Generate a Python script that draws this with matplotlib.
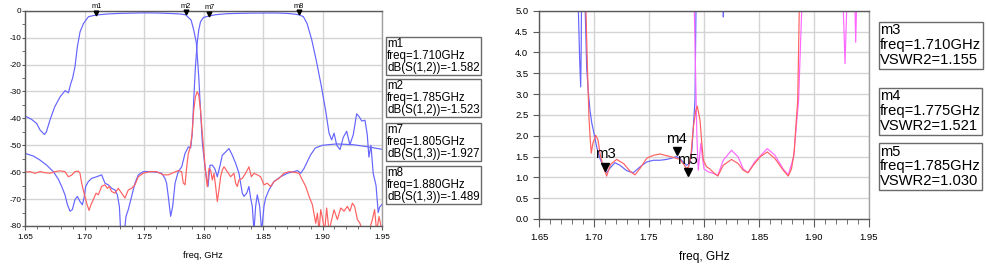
import matplotlib
matplotlib.use("Agg")
import matplotlib.pyplot as plt
from matplotlib.ticker import MultipleLocator, FormatStrFormatter
from matplotlib.transforms import offset_copy

plt.rcParams['font.family'] = ['Liberation Sans', 'DejaVu Sans']
plt.rcParams['axes.unicode_minus'] = False

# ---- left chart: dB(S(1,2)), dB(S(1,3)), isolation ----
s12_freq = [1.650, 1.6556, 1.6598, 1.6626, 1.6663, 1.668, 1.671, 1.675, 1.6795, 1.6837,
            1.6865, 1.6885, 1.690, 1.692, 1.694, 1.6963, 1.6992, 1.7034, 1.710, 1.720,
            1.730, 1.740, 1.750, 1.760, 1.770, 1.780, 1.785, 1.7896, 1.7918, 1.794,
            1.796, 1.7975, 1.799, 1.801, 1.8025, 1.8038, 1.8055, 1.8074, 1.8094, 1.8116,
            1.8139, 1.8158, 1.8186, 1.8214, 1.8242, 1.827, 1.8298, 1.8326, 1.834, 1.8363,
            1.8382, 1.8396, 1.841, 1.8424, 1.8438, 1.8452, 1.8472, 1.8489, 1.8508, 1.8522,
            1.855, 1.8592, 1.8648, 1.8704, 1.8761, 1.8789, 1.8817, 1.8845, 1.8873, 1.8901,
            1.894, 1.900, 1.912, 1.926, 1.937, 1.950]
s12_db = [-39.1, -40.4, -41.9, -44.3, -46.0, -45.0, -40.6, -35.7, -32.0, -29.7,
          -30.5, -27.0, -25.1, -20.8, -13.4, -7.8, -4.7, -2.2, -1.58, -1.2,
          -1.0, -0.9, -0.8, -0.85, -1.0, -1.2, -1.52, -3.5, -7.2, -12.0,
          -24.5, -37.0, -49.0, -57.0, -62.0, -65.3, -57.4, -57.4, -58.6, -61.7,
          -57.5, -53.7, -52.5, -51.2, -53.7, -56.7, -60.4, -67.8, -69.0, -67.8,
          -65.3, -69.6, -72.7, -82.0, -72.7, -68.4, -72.7, -82.0, -72.7, -69.6,
          -66.6, -63.5, -61.7, -60.4, -59.8, -59.4, -60.4, -58.6, -56.0, -53.5,
          -51.0, -50.0, -49.5, -49.8, -50.5, -51.5]

s13_freq = [1.650, 1.657, 1.6626, 1.6682, 1.6738, 1.678, 1.6808, 1.6836, 1.6856, 1.6878,
            1.6898, 1.692, 1.694, 1.6962, 1.6982, 1.6996, 1.701, 1.7032, 1.706, 1.7102,
            1.7144, 1.7172, 1.720, 1.7228, 1.7256, 1.7276, 1.7293, 1.7304, 1.7335, 1.7349,
            1.7368, 1.7396, 1.7424, 1.7452, 1.7494, 1.755, 1.7606, 1.7648, 1.7676, 1.769,
            1.7704, 1.7724, 1.7741, 1.7761, 1.7788, 1.7817, 1.7845, 1.7873, 1.7892, 1.7905,
            1.7918, 1.7932, 1.7947, 1.796, 1.7975, 1.800, 1.805, 1.810, 1.820, 1.840,
            1.860, 1.870, 1.875, 1.880, 1.8839, 1.887, 1.891, 1.895, 1.899, 1.9026,
            1.9055, 1.9077, 1.9097, 1.912, 1.9147, 1.9175, 1.9203, 1.923, 1.9259, 1.9287,
            1.931, 1.933, 1.9357, 1.9376, 1.939, 1.9407, 1.9426, 1.945, 1.9468, 1.948,
            1.950]
s13_db = [-53.0, -54.0, -55.5, -57.4, -59.8, -62.6, -65.3, -68.4, -72.0, -74.5,
          -73.9, -70.2, -69.0, -70.9, -72.1, -69.6, -65.3, -63.5, -62.3, -61.7,
          -61.0, -64.1, -64.7, -66.0, -66.6, -68.4, -72.7, -82.0, -82.0, -76.4,
          -73.9, -69.0, -64.1, -61.0, -59.8, -59.8, -60.0, -60.4, -62.3, -64.1,
          -69.0, -76.4, -72.7, -64.1, -59.8, -58.0, -53.0, -50.6, -51.0, -46.0,
          -33.0, -21.0, -12.0, -7.2, -4.1, -2.5, -1.93, -1.5, -1.1, -0.9,
          -0.85, -1.0, -1.2, -1.49, -2.2, -4.7, -10.9, -19.0, -28.0, -37.0,
          -45.5, -48.0, -45.5, -50.0, -51.6, -47.0, -44.8, -49.8, -46.0, -38.3,
          -39.5, -41.0, -40.7, -46.0, -54.4, -50.0, -60.4, -65.0, -75.0, -73.0,
          -71.9]

s23_freq = [1.650, 1.6542, 1.6584, 1.6626, 1.6668, 1.671, 1.6752, 1.6794, 1.6836, 1.6864,
            1.6892, 1.692, 1.6948, 1.6962, 1.6976, 1.6996, 1.7018, 1.7038, 1.7055, 1.7074,
            1.7097, 1.7116, 1.7144, 1.7172, 1.7192, 1.7208, 1.7228, 1.7256, 1.7284, 1.7312,
            1.734, 1.7368, 1.7396, 1.7424, 1.7452, 1.7494, 1.755, 1.7606, 1.7662, 1.7704,
            1.7746, 1.7788, 1.7816, 1.783, 1.7845, 1.7859, 1.7873, 1.789, 1.7904, 1.7918,
            1.7932, 1.7947, 1.796, 1.7975, 1.799, 1.8004, 1.8018, 1.8032, 1.8046, 1.806,
            1.8074, 1.8088, 1.8102, 1.8116, 1.813, 1.8144, 1.8158, 1.8172, 1.820, 1.8228,
            1.8256, 1.827, 1.8284, 1.8298, 1.8326, 1.8354, 1.8382, 1.8402, 1.8424, 1.8452,
            1.848, 1.8508, 1.8536, 1.8564, 1.8592, 1.8634, 1.8676, 1.8718, 1.8761, 1.8803,
            1.8831, 1.8859, 1.8887, 1.8915, 1.8943, 1.8957, 1.8971, 1.8985, 1.8999, 1.9018,
            1.9035, 1.9055, 1.9074, 1.9097, 1.9125, 1.9153, 1.9181, 1.9209, 1.9231, 1.9251,
            1.927, 1.9293, 1.9315, 1.9335, 1.9363, 1.9391, 1.9419, 1.9438, 1.9455, 1.9475,
            1.9489, 1.950]
s23_db = [-60.0, -59.8, -60.4, -59.8, -60.2, -60.4, -59.8, -59.5, -59.8, -61.7,
          -61.1, -59.8, -59.6, -60.4, -64.0, -67.8, -71.5, -74.2, -72.0, -70.2,
          -67.8, -68.4, -65.3, -64.7, -66.0, -65.3, -67.2, -67.8, -66.0, -67.8,
          -69.6, -66.6, -66.0, -64.7, -61.7, -60.4, -59.8, -59.8, -61.0, -61.0,
          -60.2, -59.4, -59.8, -64.0, -64.7, -58.0, -53.0, -50.5, -45.6, -37.0,
          -32.0, -30.1, -31.3, -37.0, -45.6, -53.0, -60.4, -65.4, -58.6, -59.2,
          -62.9, -60.4, -65.3, -70.9, -66.6, -61.7, -59.2, -58.0, -59.8, -61.7,
          -60.4, -64.1, -65.3, -62.9, -62.3, -60.4, -58.0, -61.7, -60.4, -61.0,
          -61.7, -64.7, -64.1, -65.3, -63.5, -62.3, -60.4, -59.8, -60.0, -60.4,
          -62.9, -65.3, -69.0, -72.1, -79.0, -75.2, -82.0, -73.9, -76.9, -82.0,
          -73.3, -82.0, -78.2, -74.0, -77.6, -73.3, -74.5, -72.7, -74.5, -71.5,
          -72.7, -77.6, -79.0, -82.0, -82.0, -82.0, -77.6, -73.9, -82.0, -76.5,
          -79.5, -82.0]

left_markers = ['m1', 'm2', 'm7', 'm8']
left_marker_freq = [1.710, 1.785, 1.805, 1.880]
left_marker_val = [-1.582, -1.523, -1.927, -1.489]
left_marker_expr = ['dB(S(1,2))', 'dB(S(1,2))', 'dB(S(1,3))', 'dB(S(1,3))']

# ---- right chart: VSWR ----
vswr_blue_freq = [1.650, 1.684, 1.6858, 1.687, 1.6879, 1.6884, 1.6888, 1.690, 1.6915, 1.6934,
                  1.695, 1.6964, 1.698, 1.6994, 1.7024, 1.7055, 1.709, 1.710, 1.7115, 1.7145,
                  1.719, 1.7236, 1.7297, 1.7357, 1.7418, 1.748, 1.754, 1.760, 1.766, 1.772,
                  1.775, 1.778, 1.781, 1.784, 1.787, 1.789, 1.7903, 1.7918, 1.7927, 1.794,
                  1.815, 1.8172, 1.8176, 1.818, 1.820, 1.950]
vswr_blue = [20.0, 12.0, 5.0, 3.8, 3.17, 4.2, 6.0, 9.0, 5.5, 3.6,
             3.0, 2.6, 2.3, 2.13, 1.73, 1.45, 1.22, 1.155, 1.11, 1.22,
             1.35, 1.29, 1.16, 1.11, 1.25, 1.37, 1.41, 1.41, 1.43, 1.47,
             1.50, 1.45, 1.37, 1.29, 1.33, 1.65, 2.21, 2.85, 5.0, 9.0,
             8.0, 5.5, 4.85, 5.5, 9.0, 20.0]

vswr_red_freq = [1.650, 1.690, 1.6927, 1.694, 1.6954, 1.6966, 1.6975, 1.699, 1.7015, 1.7036,
                 1.706, 1.709, 1.7115, 1.715, 1.7206, 1.727, 1.733, 1.7373, 1.742, 1.748,
                 1.754, 1.760, 1.766, 1.772, 1.778, 1.782, 1.7836, 1.786, 1.788, 1.7903,
                 1.7925, 1.7939, 1.7964, 1.798, 1.7994, 1.8024, 1.805, 1.808, 1.8126, 1.8175,
                 1.825, 1.831, 1.8357, 1.840, 1.8448, 1.8509, 1.8575, 1.8645, 1.872, 1.8766,
                 1.8796, 1.882, 1.884, 1.8852, 1.8866, 1.888, 1.950]
vswr_red = [20.0, 10.0, 5.0, 3.65, 2.45, 1.9, 1.58, 1.82, 2.01, 1.9,
            1.49, 1.22, 1.03, 1.31, 1.43, 1.33, 1.14, 1.06, 1.22, 1.46,
            1.53, 1.56, 1.52, 1.48, 1.43, 1.30, 1.22, 1.25, 1.5, 2.2,
            2.6, 2.71, 2.37, 1.82, 1.41, 1.25, 1.21, 1.13, 1.03, 1.29,
            1.43, 1.33, 1.17, 1.11, 1.29, 1.49, 1.61, 1.45, 1.17, 1.03,
            1.21, 1.61, 2.41, 2.85, 5.0, 9.0, 20.0]

vswr_pink_freq = [1.650, 1.790, 1.7912, 1.7935, 1.7948, 1.796, 1.7972, 1.7985, 1.800, 1.804,
                  1.808, 1.8126, 1.8175, 1.825, 1.831, 1.8357, 1.840, 1.846, 1.8575, 1.8645,
                  1.872, 1.8766, 1.8815, 1.8845, 1.886, 1.8888, 1.891, 1.925, 1.9267, 1.9282,
                  1.9297, 1.931, 1.936, 1.9373, 1.9379, 1.9386, 1.940, 1.950]
vswr_pink = [20.0, 10.0, 5.0, 2.0, 1.17, 1.5, 1.82, 1.5, 1.2, 1.13,
             1.1, 1.05, 1.41, 1.65, 1.49, 1.2, 1.11, 1.37, 1.69, 1.53,
             1.2, 1.06, 1.49, 2.4, 2.85, 5.0, 9.0, 9.0, 5.0, 3.73,
             5.0, 8.0, 8.0, 5.0, 4.24, 5.0, 9.0, 20.0]

right_markers = ['m3', 'm4', 'm5']
right_marker_freq = [1.710, 1.775, 1.785]
right_marker_val = [1.155, 1.521, 1.030]

BLUE = '#6464ff'
RED = '#ff6060'
PINK = '#ff66ff'
GRID = '#d4d4d4'
SPINE = '#5a5a5a'
W, H = 986.0, 268.0


def style_axes(ax):
    ax.set_facecolor('white')
    ax.grid(True, which='major', color=GRID, lw=1.0)
    ax.set_axisbelow(True)
    for side in ['left', 'bottom', 'top']:
        ax.spines[side].set_color(SPINE)
        ax.spines[side].set_linewidth(1.0)
    ax.spines['right'].set_color('#a0a0a0')
    ax.spines['right'].set_linewidth(1.0)


def add_marker(ax, f, v, name, ms, fs, gap):
    # triangle with its tip on the value, label just above it
    tr = offset_copy(ax.transData, fig=ax.figure, y=ms / 2.0, units='points')
    ax.plot([f], [v], 'v', ms=ms, color='black', transform=tr, clip_on=False, zorder=5)
    ax.annotate(name, (f, v), xytext=(0, ms + gap), textcoords='offset points',
                ha='center', va='baseline', fontsize=fs, annotation_clip=False, zorder=6)


def info_box(fig, x_px, y_px, text, fs, ls):
    fig.text(x_px / W, 1 - y_px / H, text, ha='left', va='top', fontsize=fs,
             linespacing=ls,
             bbox=dict(boxstyle='square,pad=0.1', fc='white', ec='#6a6a6a', lw=1.0))


fig = plt.figure(figsize=(9.86, 2.68), dpi=100)

# left chart
ax1 = fig.add_axes([25 / W, 1 - 226 / H, (382 - 25) / W, (226 - 10.7) / H])
style_axes(ax1)
ax1.plot(s12_freq, s12_db, color=BLUE, lw=0.85)
ax1.plot(s13_freq, s13_db, color=BLUE, lw=0.85)
ax1.plot(s23_freq, s23_db, color=RED, lw=0.85)
ax1.set_xlim(1.65, 1.95)
ax1.set_ylim(-80, 0)
ax1.xaxis.set_major_locator(MultipleLocator(0.05))
ax1.xaxis.set_minor_locator(MultipleLocator(0.01))
ax1.yaxis.set_major_locator(MultipleLocator(10))
ax1.yaxis.set_minor_locator(MultipleLocator(5))
ax1.xaxis.set_major_formatter(FormatStrFormatter('%.2f'))
ax1.tick_params(axis='x', which='major', direction='out', length=3, pad=3,
                labelsize=5.9, color=SPINE)
ax1.tick_params(axis='x', which='minor', direction='out', length=2.5, color=SPINE)
ax1.tick_params(axis='y', which='both', direction='out', length=2.4, pad=0.3,
                labelsize=5.9, color=SPINE)
fig.text(203 / W, 1 - 256 / H, 'freq, GHz', ha='center', va='center', fontsize=6.7)

for name, f, v in zip(left_markers, left_marker_freq, left_marker_val):
    add_marker(ax1, f, v, name, 3.4, 5.4, 1.5)

left_box_tops = [37, 79, 123, 166]
for name, f, v, expr, top in zip(left_markers, left_marker_freq, left_marker_val,
                                  left_marker_expr, left_box_tops):
    info_box(fig, 387, top + 1.2, '%s\nfreq=%.3fGHz\n%s=%.3f' % (name, f, expr, v), 8.3, 0.98)

# right chart
ax2 = fig.add_axes([539 / W, 1 - 219 / H, (869 - 539) / W, (219 - 10.7) / H])
style_axes(ax2)
ax2.plot(vswr_blue_freq, vswr_blue, color=BLUE, lw=0.85)
ax2.plot(vswr_pink_freq, vswr_pink, color=PINK, lw=0.85)
ax2.plot(vswr_red_freq, vswr_red, color=RED, lw=0.85)
ax2.set_xlim(1.65, 1.95)
ax2.set_ylim(0, 5)
ax2.xaxis.set_major_locator(MultipleLocator(0.05))
ax2.xaxis.set_minor_locator(MultipleLocator(0.01))
ax2.yaxis.set_major_locator(MultipleLocator(0.5))
ax2.xaxis.set_major_formatter(FormatStrFormatter('%.2f'))
ax2.yaxis.set_major_formatter(FormatStrFormatter('%.1f'))
ax2.tick_params(axis='x', which='major', direction='out', length=5.8, pad=4.3,
                labelsize=6.8, color=SPINE)
ax2.tick_params(axis='x', which='minor', direction='out', length=3.6, color=SPINE)
ax2.tick_params(axis='y', which='major', direction='out', length=4.3, pad=3.4,
                labelsize=6.8, color=SPINE)
fig.text(704 / W, 1 - 257 / H, 'freq, GHz', ha='center', va='center', fontsize=8.6)

for name, f, v in zip(right_markers, right_marker_freq, right_marker_val):
    add_marker(ax2, f, v, name, 6, 10.7, 3.0)

right_box_tops = [22, 88, 143]
for name, f, v, top in zip(right_markers, right_marker_freq, right_marker_val, right_box_tops):
    info_box(fig, 880, top + 1.5, '%s\nfreq=%.3fGHz\nVSWR2=%.3f' % (name, f, v), 10.6, 1.08)

fig.savefig('out.png', dpi=100, facecolor='white')
